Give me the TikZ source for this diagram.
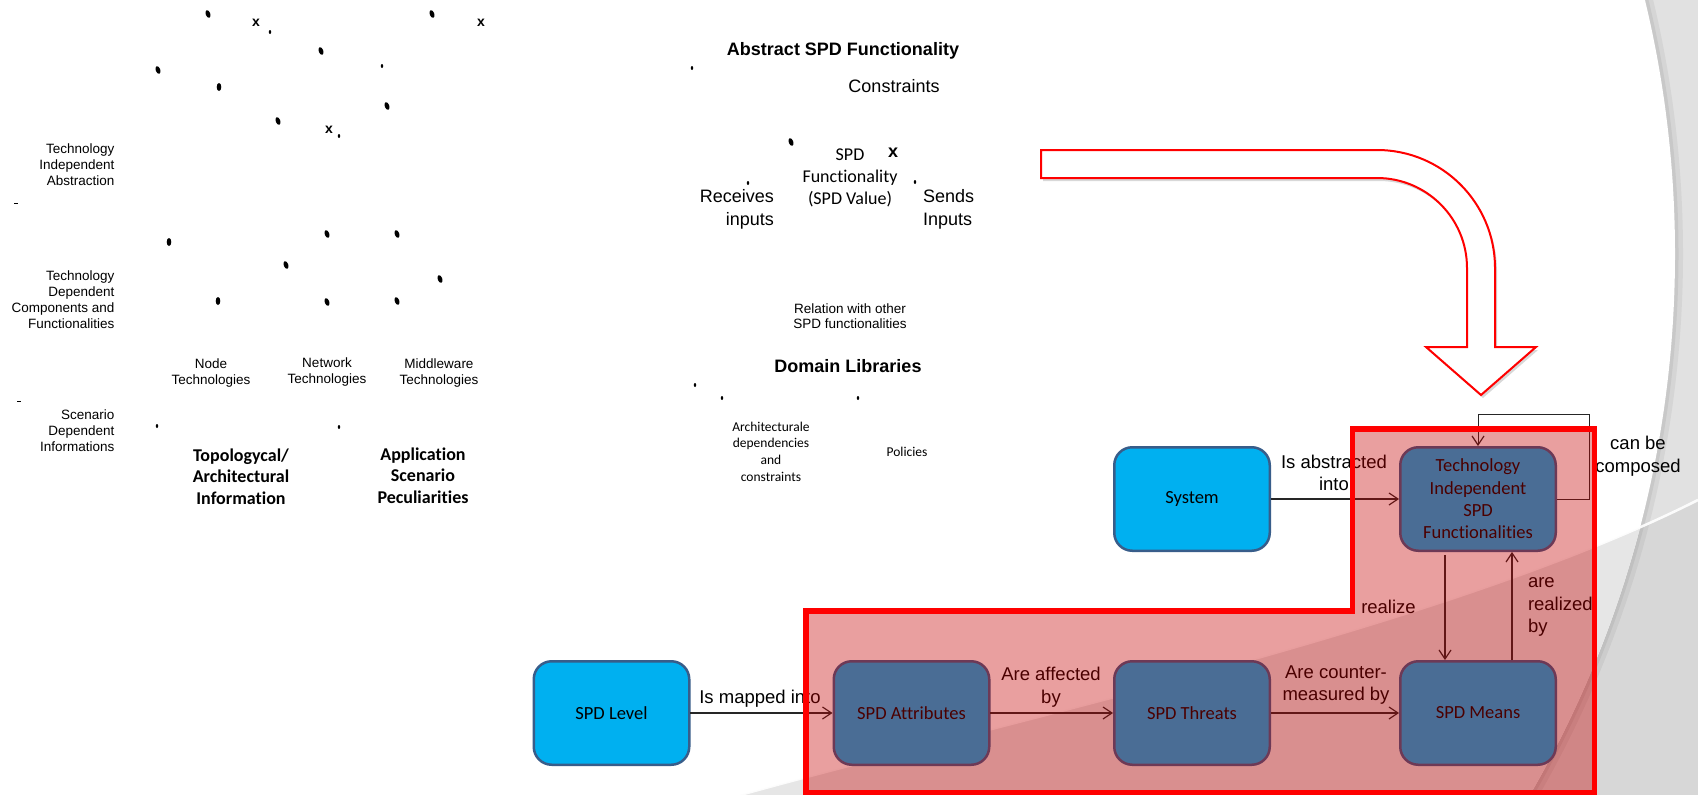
\documentclass[tikz,border=0pt]{standalone}
\usepackage{fontspec}
\setmainfont{Liberation Sans}
\newfontfamily\arial{Liberation Sans}
\newfontfamily\calib[Ligatures=NoCommon]{Carlito}
\usetikzlibrary{arrows.meta,shadows}
\definecolor{cyanbox}{HTML}{00B0F0}
\definecolor{boxline}{HTML}{385D8A}
\definecolor{ovl}{HTML}{C60000}
\definecolor{bgA}{HTML}{E1E1E1}
\definecolor{bgB}{HTML}{D7D7D7}
\definecolor{bgC}{HTML}{E6E6E6}
\newcommand\myblob[3]{\fill[shift={(#1,#2)},rotate=#3] (0,0) ellipse[x radius=2.3pt,y radius=4pt];}
\newcommand\mytinyblob[2]{\fill[shift={(#1,#2)}] (0,0) ellipse[x radius=1.2pt,y radius=2pt];}
\begin{document}
\begin{tikzpicture}[x=1pt,y=-1pt,
  every node/.style={inner sep=0pt, outer sep=0pt},
  sm/.style={font=\arial\fontsize{13.5}{16}\selectfont},
  md/.style={font=\arial\fontsize{18}{23}\selectfont},
  lab/.style={font=\arial\fontsize{18.5}{22.5}\selectfont, align=center},
  boldtitle/.style={font=\arial\bfseries\fontsize{18}{22}\selectfont},
  caleighteen/.style={font=\calib\fontsize{18}{22}\selectfont},
  calbold/.style={font=\calib\bfseries\fontsize{18}{21.5}\selectfont},
  calsmall/.style={font=\calib\fontsize{13.5}{16.7}\selectfont},
  xmark/.style={font=\arial\bfseries\fontsize{14}{14}\selectfont},
  boxbase/.style={draw=boxline, line width=2.5pt, rounded corners=18pt,
    minimum width=155.5pt, minimum height=103.5pt, fill=cyanbox,
    font=\calib\fontsize{18.5}{22.3}\selectfont, align=center, outer sep=1.2pt},
  arr/.style={draw=black!85, line width=1.2pt,
    -{Straight Barb[length=9pt,width=12pt,line width=1.2pt]}},
]
\useasboundingbox (0,0) rectangle (1698,795);

% ---------- slide background ----------
\fill[bgA] (0,0) rectangle (1698,795);
\fill[bgB] (740,795) .. controls (1030,715) and (1450,625) .. (1698,500) -- (1698,795) -- cycle;
\draw[black, opacity=0.05, line width=16pt] (596,254) circle[radius=1079pt];
\draw[black, opacity=0.06, line width=7pt] (596,254) circle[radius=1079pt];
\fill[white] (596,254) circle[radius=1079pt];
\begin{scope}
  \clip (596,254) circle[radius=1079pt];
  \fill[bgC] (740,795) .. controls (1030,715) and (1450,625) .. (1698,500) -- (1698,795) -- cycle;
\end{scope}
\draw[white, line width=2.5pt, opacity=0.9] (740,795) .. controls (1030,715) and (1450,625) .. (1698,500);

% ---------- bent arrow ----------
\draw[red, line width=2pt, fill=white, line join=miter,
  drop shadow={shadow xshift=2pt, shadow yshift=-3pt, opacity=0.3}]
  (1041,150) -- (1377,150) .. controls (1442.2,150) and (1495,202.8) .. (1495,268)
  -- (1495,347) -- (1536,347) -- (1481,395) -- (1426,347) -- (1467,347) -- (1467,268)
  .. controls (1467,218.3) and (1426.7,178) .. (1377,178) -- (1041,178) -- cycle;

% ---------- left column texts ----------
\node[sm, align=right, anchor=east] (t1) at (114.5,165) {Technology\\Independent\\Abstraction};
\node[sm, align=right, anchor=east] (t2) at (114.5,299.5) {Technology\\Dependent\\Components and\\Functionalities};
\node[sm, align=right, anchor=east] (t3) at (114.5,431) {Scenario\\Dependent\\Informations};
\node[sm, align=center] (t4) at (211,373) {Node\\Technologies};
\node[sm, align=center] (t5) at (327,372) {Network\\Technologies};
\node[sm, align=center] (t6) at (439,373) {Middleware\\Technologies};
\node[calbold, align=center] (t7) at (241,476.5) {Topologycal/\\Architectural\\Information};
\node[calbold, align=center] (t8) at (423,475.5) {Application\\Scenario\\Peculiarities};

\node[xmark] (x1) at (256,23) {x};
\node[xmark] (x2) at (481,23) {x};
\node[xmark] (x3) at (329,130) {x};

\myblob{208}{14}{20}
\myblob{321}{51}{20}
\myblob{432}{14}{20}
\myblob{158}{70}{20}
\myblob{219}{87}{0}
\myblob{387}{106}{20}
\myblob{278}{121}{20}
\myblob{169}{242}{0}
\myblob{327}{234}{20}
\myblob{397}{234}{20}
\myblob{286}{265}{20}
\myblob{440}{279}{20}
\myblob{218}{301}{0}
\myblob{327}{302}{20}
\myblob{397}{301}{20}
\mytinyblob{270}{32}
\mytinyblob{382}{66}
\mytinyblob{339}{136}
\mytinyblob{157}{426}
\mytinyblob{339}{427}
\fill (14,202.5) rectangle (18,203.8);
\fill (17,400.5) rectangle (21,401.8);

% ---------- middle column texts ----------
\node[boldtitle] (m1) at (843,51) {Abstract SPD Functionality};
\node[md] (m2) at (894,86) {Constraints};
\node[caleighteen, align=center] (m3) at (850,178) {SPD\\Functionality\\(SPD Value)};
\node[font=\arial\bfseries\fontsize{18}{18}\selectfont] (x4) at (893,153) {x};
\node[md, align=right, anchor=east] (m4) at (774,209.5) {Receives\\inputs};
\node[md, align=left, anchor=west] (m5) at (923,209.5) {Sends\\Inputs};
\node[font=\arial\fontsize{13.5}{15}\selectfont, align=center] (m6) at (850,316.5) {Relation with other\\SPD functionalities};
\node[boldtitle] (m7) at (848,366) {Domain Libraries};
\node[calsmall, align=center] (m8) at (771,451.5) {Architecturale\\dependencies\\and\\constraints};
\node[calsmall] (m9) at (907,452) {Policies};

\myblob{791}{142}{20}
\mytinyblob{748}{183}
\mytinyblob{915}{182}
\mytinyblob{692}{68}
\mytinyblob{695}{385}
\mytinyblob{722}{398}
\mytinyblob{858}{398}

% ---------- diagram boxes ----------
\node[boxbase] (sys) at (1192,499) {System};
\node[boxbase] (tisf) at (1478,499) {Technology\\Independent\\SPD\\Functionalities};
\node[boxbase] (lvl) at (611.5,713) {SPD Level};
\node[boxbase] (attr) at (911.5,713) {SPD Attributes};
\node[boxbase] (thr) at (1192,713) {SPD Threats};
\node[boxbase] (mns) at (1478,713) {SPD Means};

% ---------- connectors ----------
\draw[arr] (sys.east) -- (tisf.west);
\draw[arr] (lvl.east) -- (attr.west);
\draw[arr] (attr.east) -- (thr.west);
\draw[arr] (thr.east) -- (mns.west);
\draw[arr] ([xshift=-33pt,yshift=-3pt]tisf.south) -- ([xshift=-33pt]mns.north);
\draw[arr] ([xshift=34pt]mns.north) -- ([xshift=34pt]tisf.south);
\draw[arr, line width=1pt] (tisf.east) -- ([xshift=33pt]tisf.east) |- ([yshift=32pt]tisf.north) -- (tisf.north);

% ---------- connector labels ----------
\node[lab] (l1) at (1334,473) {Is abstracted\\into};
\node[lab] (l2) at (1638,456) {can be\\composed};
\node[lab] (l3) at (1388.5,607) {realize};
\node[lab, align=left, anchor=west] (l4) at (1528,607) {are\\realized\\by};
\node[lab] (l5) at (1336,685) {Are counter-\\measured by};
\node[lab] (l6) at (1051,687) {Are affected\\by};
\node[lab] (l7) at (760,699) {Is mapped into};

% ---------- red highlight region ----------
\fill[ovl, opacity=0.375] (1352.5,429) -- (1594.5,429) -- (1594.5,792.5) -- (806,792.5) -- (806,611) -- (1352.5,611) -- cycle;
\draw[red, line width=5.5pt] (1352.5,429) -- (1594.5,429) -- (1594.5,792.5) -- (806,792.5) -- (806,611) -- (1352.5,611) -- cycle;
\end{tikzpicture}
\end{document}
